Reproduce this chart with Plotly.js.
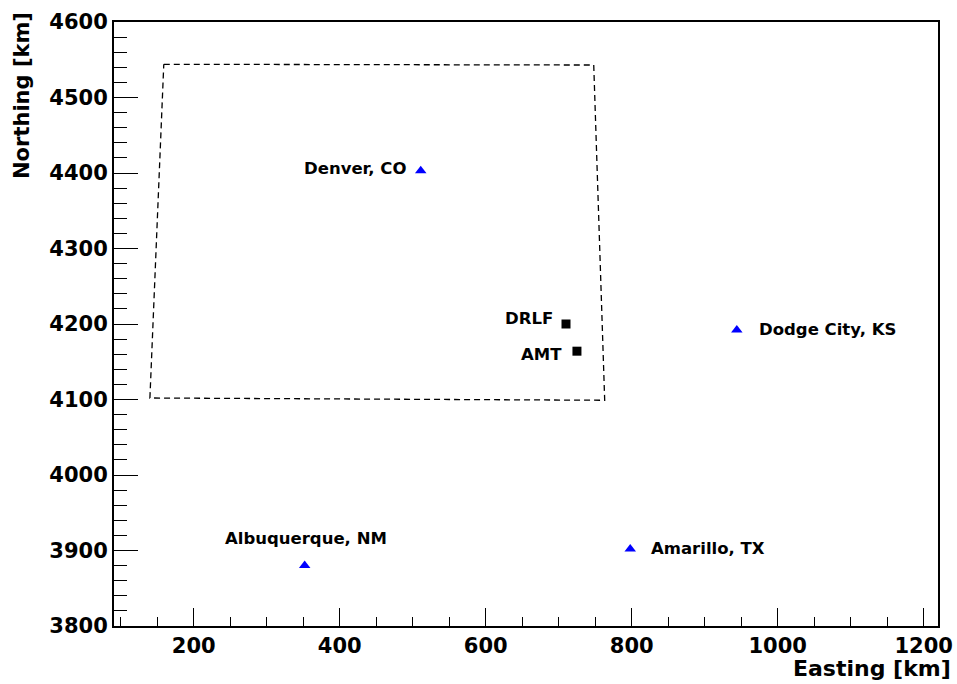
<!DOCTYPE html>
<html>
<head>
<meta charset="utf-8">
<script src="https://cdn.plot.ly/plotly-3.0.1.min.js"></script>
<style>html,body{margin:0;padding:0;background:#fff;}#chart{width:957px;height:684px;}</style>
</head>
<body>
<div id="chart"></div>
<script>
// ---- data ----
var cityNames = ['Denver, CO', 'Albuquerque, NM', 'Amarillo, TX', 'Dodge City, KS'];
var cityEast = [511, 352, 798, 944];
var cityNorth = [4403, 3880, 3902, 4192];

var siteNames = ['DRLF', 'AMT'];
var siteEast = [710, 725];
var siteNorth = [4200, 4164];

var boundaryEast = [159, 748, 763, 140, 159];
var boundaryNorth = [4544, 4543, 4099, 4102, 4544];

var xTitle = 'Easting [km]';
var yTitle = 'Northing [km]';

// ---- label placement (pixel offsets from each marker) ----
var cityLabelPlace = [
  {xanchor: 'right', xshift: -13, yshift: 2},
  {xanchor: 'center', xshift: 1, yshift: 27},
  {xanchor: 'left', xshift: 19, yshift: 0},
  {xanchor: 'left', xshift: 20, yshift: 1}
];
var siteLabelPlace = [
  {xanchor: 'right', xshift: -11, yshift: 6},
  {xanchor: 'right', xshift: -13, yshift: -3}
];

var FONT = 'DejaVu Sans';
var labelFont = {family: FONT, size: 16.5, color: '#000', weight: 'bold'};

var traces = [
  {
    x: boundaryEast, y: boundaryNorth, type: 'scatter', mode: 'lines',
    line: {color: '#000', width: 1.3, dash: '6px,4px'}, hoverinfo: 'skip'
  },
  {
    x: cityEast, y: cityNorth, type: 'scatter', mode: 'markers',
    marker: {symbol: 'triangle-up', size: 10, color: '#0000ff'}
  },
  {
    x: siteEast, y: siteNorth, type: 'scatter', mode: 'markers',
    marker: {symbol: 'square', size: 9, color: '#000'}
  }
];

var annotations = [];
cityNames.forEach(function (n, i) {
  var p = cityLabelPlace[i];
  annotations.push({x: cityEast[i], y: cityNorth[i], xref: 'x', yref: 'y', text: n,
    showarrow: false, xanchor: p.xanchor, yanchor: 'middle', xshift: p.xshift, yshift: p.yshift,
    font: labelFont});
});
siteNames.forEach(function (n, i) {
  var p = siteLabelPlace[i];
  annotations.push({x: siteEast[i], y: siteNorth[i], xref: 'x', yref: 'y', text: n,
    showarrow: false, xanchor: p.xanchor, yanchor: 'middle', xshift: p.xshift, yshift: p.yshift,
    font: labelFont});
});
annotations.push({xref: 'paper', yref: 'paper', x: 1.018, y: -0.071, text: xTitle,
  showarrow: false, xanchor: 'right', yanchor: 'middle',
  font: {family: FONT, size: 22, color: '#000', weight: 'bold'}});
annotations.push({xref: 'paper', yref: 'paper', x: -0.111, y: 1.02, text: yTitle,
  showarrow: false, xanchor: 'center', yanchor: 'top', textangle: -90,
  font: {family: FONT, size: 21, color: '#000', weight: 'bold'}});

var tickFont = {family: FONT, size: 21, color: '#000', weight: 'bold'};

var layout = {
  width: 957, height: 684,
  margin: {l: 114, r: 19, t: 22, b: 58, pad: 0},
  paper_bgcolor: '#fff', plot_bgcolor: '#fff',
  showlegend: false,
  xaxis: {
    range: [90.8, 1219.6], showgrid: false, zeroline: false,
    showline: true, linecolor: '#000', linewidth: 2, mirror: true,
    ticks: 'inside', ticklen: 18, tickwidth: 1, tickcolor: '#000',
    tick0: 0, dtick: 200, tickfont: tickFont, ticklabelstandoff: 0,
    minor: {ticks: 'inside', ticklen: 9, tickwidth: 1, tickcolor: '#000', dtick: 50, showgrid: false}
  },
  yaxis: {
    range: [3800, 4600], showgrid: false, zeroline: false,
    showline: true, linecolor: '#000', linewidth: 2, mirror: true,
    ticks: 'inside', ticklen: 24, tickwidth: 1, tickcolor: '#000',
    tick0: 0, dtick: 100, tickfont: tickFont, ticklabelstandoff: 0,
    minor: {ticks: 'inside', ticklen: 13, tickwidth: 1, tickcolor: '#000', dtick: 20, showgrid: false}
  },
  annotations: annotations
};

Plotly.newPlot('chart', traces, layout, {staticPlot: true, displayModeBar: false});
</script>
</body>
</html>
